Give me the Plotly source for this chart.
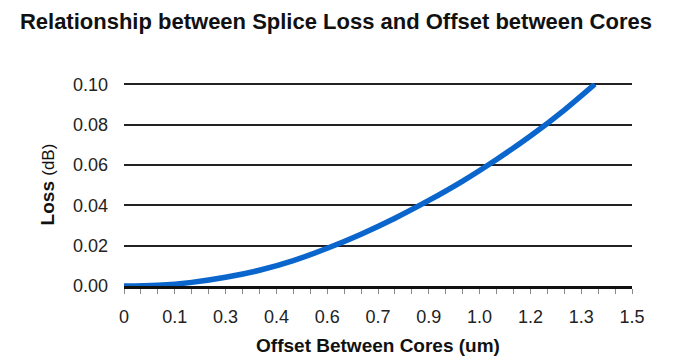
import plotly.graph_objects as go

offset_um = [0, 0.1, 0.2, 0.3, 0.4, 0.5, 0.6, 0.7, 0.8, 0.9, 1.0, 1.1, 1.2, 1.3, 1.39]
loss_db = [0, 0.0004, 0.0018, 0.0043, 0.0078, 0.0126, 0.0187, 0.0257, 0.0336, 0.0424, 0.0520, 0.0627, 0.0743, 0.0872, 0.100]

x_tickvals = [0, 0.15, 0.3, 0.45, 0.6, 0.75, 0.9, 1.05, 1.2, 1.35, 1.5]
x_ticktext = ["0", "0.1", "0.3", "0.4", "0.6", "0.7", "0.9", "1.0", "1.2", "1.3", "1.5"]
y_tickvals = [0, 0.02, 0.04, 0.06, 0.08, 0.10]
y_ticktext = ["0.00", "0.02", "0.04", "0.06", "0.08", "0.10"]

fig = go.Figure()
fig.add_trace(go.Scatter(
    x=offset_um, y=loss_db, mode="lines",
    line=dict(color="#0a66cc", width=5.5, shape="spline", smoothing=1.0),
    showlegend=False,
))

font = "Liberation Sans, Arial, sans-serif"
fig.update_layout(
    width=700, height=362,
    margin=dict(l=116, r=76, t=75, b=84, autoexpand=False),
    paper_bgcolor="white", plot_bgcolor="white",
    font=dict(family=font, color="#222222", size=18),
    title=dict(text="<b>Relationship between Splice Loss and Offset between Cores</b>",
               x=0.017, xref="container", xanchor="left",
               y=0.985, yref="container", yanchor="top",
               font=dict(size=22, color="#111111", family=font)),
    xaxis=dict(
        range=[0, 1.5], tickvals=x_tickvals, ticktext=x_ticktext,
        showgrid=False, zeroline=False,
        showline=True, linecolor="#111111", linewidth=2.5,
        ticks="outside", ticklen=5, tickcolor="#888888", tickwidth=1,
        minor=dict(dtick=0.05, tick0=0, ticks="outside", ticklen=5, tickcolor="#888888", tickwidth=1, showgrid=False),
        tickfont=dict(size=18, color="#222222"),
        ticklabelstandoff=8,
        title=dict(text="<b>Offset Between Cores (um)</b>", font=dict(size=19, color="#111111"), standoff=13),
    ),
    yaxis=dict(
        range=[0, 0.1006], tickvals=y_tickvals, ticktext=y_ticktext,
        showgrid=True, gridcolor="#222222", gridwidth=1.6,
        zeroline=False, showline=False,
        ticks="", ticklabelstandoff=15,
        tickfont=dict(size=18, color="#222222"),
        title=dict(text="<b>Loss</b> <span style='font-size:17px;font-weight:normal'>(dB)</span>",
                   font=dict(size=19, color="#111111"), standoff=13),
    ),
)

fig.write_html("out.html")
